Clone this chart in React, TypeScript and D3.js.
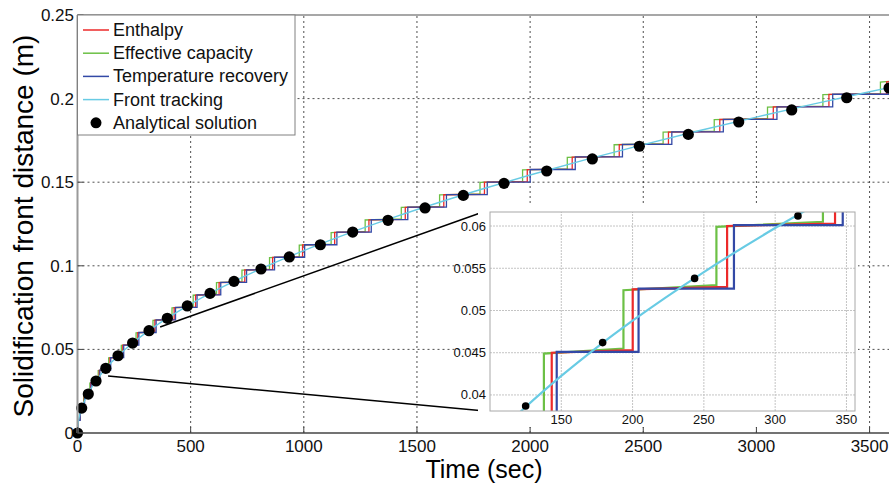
import React from 'react';
import * as d3 from 'd3';

// ---------- data ----------
const levels = [0.0075, 0.015, 0.0225, 0.03, 0.0375, 0.045, 0.0525, 0.06, 0.0675, 0.075, 0.0825, 0.09, 0.0975, 0.105, 0.1125, 0.12, 0.1275, 0.135, 0.1425, 0.15, 0.1575, 0.165, 0.1725, 0.18, 0.1875, 0.195, 0.2025, 0.21];
const enthalpyJumps = [1.2, 10.7, 29.7, 58.1, 96.0, 143.3, 200.1, 266.3, 342.0, 427.1, 521.7, 625.7, 739.2, 862.1, 994.5, 1136.4, 1287.7, 1448.4, 1618.6, 1798.3, 1987.4, 2186.0, 2393.9, 2611.3, 2838.2, 3074.6, 3320.4, 3575.7];
const effCapJumps = [0.8, 9.3, 27.2, 54.6, 91.5, 137.8, 193.6, 258.8, 333.5, 417.6, 511.2, 614.2, 726.7, 848.6, 979.9, 1120.8, 1271.1, 1430.8, 1600.0, 1778.6, 1966.7, 2164.3, 2371.3, 2587.7, 2813.6, 3049.0, 3293.7, 3548.0];
const tempRecJumps = [1.6, 11.7, 31.3, 60.3, 98.8, 146.8, 204.2, 271.1, 347.4, 433.1, 528.3, 633.0, 747.1, 870.7, 1003.7, 1146.2, 1298.1, 1459.5, 1630.3, 1810.6, 2000.3, 2199.5, 2408.1, 2626.2, 2853.7, 3090.7, 3337.1, 3593.0];
// small drift of each plateau (start, end)
const effCapDrift = [-0.0001, 0.0005];
const enthalpyDrift = [0.0, 0.0003];
const tempRecDrift = [0.0001, 0.0001];

const frontT = [0, 2, 5, 10, 20, 30, 40, 60, 80, 100, 125, 150, 175, 200, 250, 300, 350, 400, 500, 600, 700, 800, 900, 1000, 1200, 1400, 1600, 1800, 2000, 2250, 2500, 2750, 3000, 3250, 3500, 3700];
const frontS = [0, 0.00488, 0.00771, 0.01091, 0.01543, 0.0189, 0.02182, 0.02672, 0.03086, 0.0345, 0.03857, 0.04225, 0.04564, 0.04879, 0.05455, 0.05976, 0.06454, 0.069, 0.07714, 0.08451, 0.09128, 0.09758, 0.1035, 0.1091, 0.11951, 0.12909, 0.138, 0.14637, 0.15429, 0.16365, 0.1725, 0.18092, 0.18896, 0.19668, 0.2041, 0.20986];

const analyticT = [0, 18.6, 47.7, 81.8, 125, 179, 243.5, 316, 396.8, 485.2, 585.5, 691.6, 810.9, 935.9, 1073, 1216, 1372, 1535.6, 1704.8, 1884.7, 2073.4, 2274.9, 2482.5, 2699, 2921.8, 3156, 3399, 3586];
const analyticS = [0, 0.0149, 0.0233, 0.0311, 0.0387, 0.0462, 0.0538, 0.0612, 0.0686, 0.076, 0.0835, 0.0907, 0.0981, 0.1053, 0.1126, 0.1202, 0.1272, 0.1346, 0.1421, 0.1493, 0.1567, 0.1639, 0.1715, 0.1786, 0.186, 0.1932, 0.2005, 0.2063];

const xTicks = [0, 500, 1000, 1500, 2000, 2500, 3000, 3500];
const yTicks = [0, 0.05, 0.1, 0.15, 0.2, 0.25];
const yTickLabels = ['0', '0.05', '0.1', '0.15', '0.2', '0.25'];
const insetXTicks = [150, 200, 250, 300, 350];
const insetYTicks = [0.04, 0.045, 0.05, 0.055, 0.06];
const insetYTickLabels = ['0.04', '0.045', '0.05', '0.055', '0.06'];
const zoomFrom = { tLow: 135, sLow: 0.0341, tHigh: 365, sHigh: 0.0634 };

const legendNames = ['Enthalpy', 'Effective capacity', 'Temperature recovery', 'Front tracking', 'Analytical solution'];

// ---------- layout ----------
const W = 889, H = 484;
const FONT = '"Liberation Sans", Arial, Helvetica, sans-serif';
const C = { red: '#ec2a2a', green: '#6cc045', blue: '#3349a6', cyan: '#68cbe4' };

const mx = d3.scaleLinear().domain([0, 3600]).range([77.5, 892.2]);
const my = d3.scaleLinear().domain([0, 0.25]).range([433, 15]);
const ix = d3.scaleLinear().domain([100, 356]).range([490, 855]);
const iy = d3.scaleLinear().domain([0.0381, 0.06166]).range([411, 212]);

type P = [number, number];
function stepPoints(jumps: number[], drift: number[], tEnd: number): P[] {
  const pts: P[] = [[0, 0]];
  let prev = 0;
  jumps.forEach((t, i) => {
    pts.push([t, prev === 0 ? 0 : prev + drift[1]]);
    pts.push([t, levels[i] + drift[0]]);
    prev = levels[i];
  });
  pts.push([tEnd, prev + drift[1]]);
  return pts;
}

const series = [
  { name: 'Effective capacity', color: C.green, pts: stepPoints(effCapJumps, effCapDrift, 3600) },
  { name: 'Enthalpy', color: C.red, pts: stepPoints(enthalpyJumps, enthalpyDrift, 3600) },
  { name: 'Temperature recovery', color: C.blue, pts: stepPoints(tempRecJumps, tempRecDrift, 3600) },
];
const frontPts: P[] = frontT.map((t, i) => [t, frontS[i]]);
const dots: P[] = analyticT.map((t, i) => [t, analyticS[i]]);

export default function App() {
  const lineMain = d3.line<P>().x(d => mx(d[0])).y(d => my(d[1]));
  const lineInset = d3.line<P>().x(d => ix(d[0])).y(d => iy(d[1]));
  const curveMain = d3.line<P>().x(d => mx(d[0])).y(d => my(d[1])).curve(d3.curveMonotoneX);
  const curveInset = d3.line<P>().x(d => ix(d[0])).y(d => iy(d[1])).curve(d3.curveMonotoneX);

  const [x0, x1] = [mx(0), W];
  const [yb, yt] = [my(0), my(0.25)];
  const [ixl, ixr] = ix.range();
  const [iyb, iyt] = iy.range();

  const legendColors = [C.red, C.green, C.blue, C.cyan];

  return (
    <svg width={W} height={H} style={{ position: 'absolute', left: 0, top: 0, background: '#fff' }} fontFamily={FONT}>
      <defs>
        <clipPath id="mainClip"><rect x={x0} y={yt} width={x1 - x0} height={yb - yt} /></clipPath>
        <clipPath id="insetClip"><rect x={ixl} y={iyt} width={ixr - ixl} height={iyb - iyt} /></clipPath>
      </defs>
      <rect x={0} y={0} width={W} height={H} fill="#fff" />

      {/* main grid */}
      {xTicks.filter(t => t > 0).map(t => (
        <line key={'gx' + t} x1={mx(t)} x2={mx(t)} y1={yb} y2={yt} stroke="#222" strokeWidth={0.8} strokeDasharray="2,3" />
      ))}
      {yTicks.filter(t => t > 0 && t < 0.25).map(t => (
        <line key={'gy' + t} x1={x0} x2={x1} y1={my(t)} y2={my(t)} stroke="#222" strokeWidth={0.8} strokeDasharray="2,3" />
      ))}

      {/* main data */}
      <g clipPath="url(#mainClip)">
        {series.map(s => (
          <path key={s.name} d={lineMain(s.pts) || ''} fill="none" stroke={s.color} strokeWidth={1.3} />
        ))}
        <path d={curveMain(frontPts) || ''} fill="none" stroke={C.cyan} strokeWidth={1.4} />
      </g>
      {dots.map((d, i) => (
        <circle key={'d' + i} cx={mx(d[0])} cy={my(d[1])} r={5.6} fill="#000" />
      ))}

      {/* connector lines */}
      <line x1={mx(zoomFrom.tHigh)} y1={my(zoomFrom.sHigh)} x2={ixl - 7} y2={iyt} stroke="#000" strokeWidth={1.5} />
      <line x1={mx(zoomFrom.tLow)} y1={my(zoomFrom.sLow)} x2={ixl - 5} y2={iyb} stroke="#000" strokeWidth={1.5} />

      {/* inset */}
      <rect x={ixl - 12} y={iyt - 6} width={ixr - ixl + 15} height={iyb - iyt + 22} fill="#fff" />
      {insetXTicks.map(t => (
        <line key={'igx' + t} x1={ix(t)} x2={ix(t)} y1={iyb} y2={iyt} stroke="#c4c4c4" strokeWidth={1} strokeDasharray="2,1" />
      ))}
      {insetYTicks.map(t => (
        <line key={'igy' + t} x1={ixl} x2={ixr} y1={iy(t)} y2={iy(t)} stroke="#c4c4c4" strokeWidth={1} strokeDasharray="2,1" />
      ))}
      <g clipPath="url(#insetClip)">
        {series.map(s => (
          <path key={'i' + s.name} d={lineInset(s.pts) || ''} fill="none" stroke={s.color} strokeWidth={2.2} />
        ))}
        <path d={curveInset(frontPts) || ''} fill="none" stroke={C.cyan} strokeWidth={2.2} />
        {dots.map((d, i) => (
          <circle key={'id' + i} cx={ix(d[0])} cy={iy(d[1])} r={3.8} fill="#000" />
        ))}
      </g>
      <rect x={ixl} y={iyt} width={ixr - ixl} height={iyb - iyt} fill="none" stroke="#a8a8a8" strokeWidth={1} />
      {insetYTicks.map((t, i) => (
        <text key={'iyl' + t} x={ixl - 4} y={iy(t) + 4.5} fontSize={13} textAnchor="end" fill="#111">{insetYTickLabels[i]}</text>
      ))}
      {insetXTicks.map(t => (
        <text key={'ixl' + t} x={ix(t)} y={iyb + 13} fontSize={13} textAnchor="middle" fill="#111">{t}</text>
      ))}

      {/* axes */}
      <line x1={x0} x2={x1} y1={yt} y2={yt} stroke="#8a8a8a" strokeWidth={1.3} />
      <line x1={x0} x2={x1} y1={yb} y2={yb} stroke="#444" strokeWidth={1.5} />
      <line x1={x0} x2={x0} y1={yt} y2={yb} stroke="#9a9a9a" strokeWidth={2} />
      {xTicks.map(t => (
        <g key={'xt' + t}>
          <line x1={mx(t)} x2={mx(t)} y1={yb} y2={yb - 6} stroke="#444" strokeWidth={1} />
          <text x={mx(t)} y={452} fontSize={17} textAnchor="middle" fill="#111">{t}</text>
        </g>
      ))}
      {yTicks.map((t, i) => (
        <g key={'yt' + t}>
          <line x1={x0} x2={x0 + 6} y1={my(t)} y2={my(t)} stroke="#444" strokeWidth={1} />
          <text x={74} y={my(t) + 6} fontSize={17} textAnchor="end" fill="#111">{yTickLabels[i]}</text>
        </g>
      ))}
      <text x={484} y={478} fontSize={25} textAnchor="middle" fill="#000">Time (sec)</text>
      <text transform={`translate(33,${226}) rotate(-90)`} fontSize={28} textAnchor="middle" fill="#000">Solidification front distance (m)</text>

      {/* legend */}
      <rect x={x0} y={yt} width={295 - x0} height={135 - yt} fill="#fff" stroke="#808080" strokeWidth={1} />
      {legendNames.map((n, i) => {
        const cy = 30 + i * 23.2;
        return (
          <g key={'lg' + n}>
            {i < 4 ? (
              <line x1={83} x2={109} y1={cy} y2={cy} stroke={legendColors[i]} strokeWidth={1.5} />
            ) : (
              <circle cx={96} cy={cy} r={5.5} fill="#000" />
            )}
            <text x={113} y={cy + 6} fontSize={18} fill="#111">{n}</text>
          </g>
        );
      })}
    </svg>
  );
}
